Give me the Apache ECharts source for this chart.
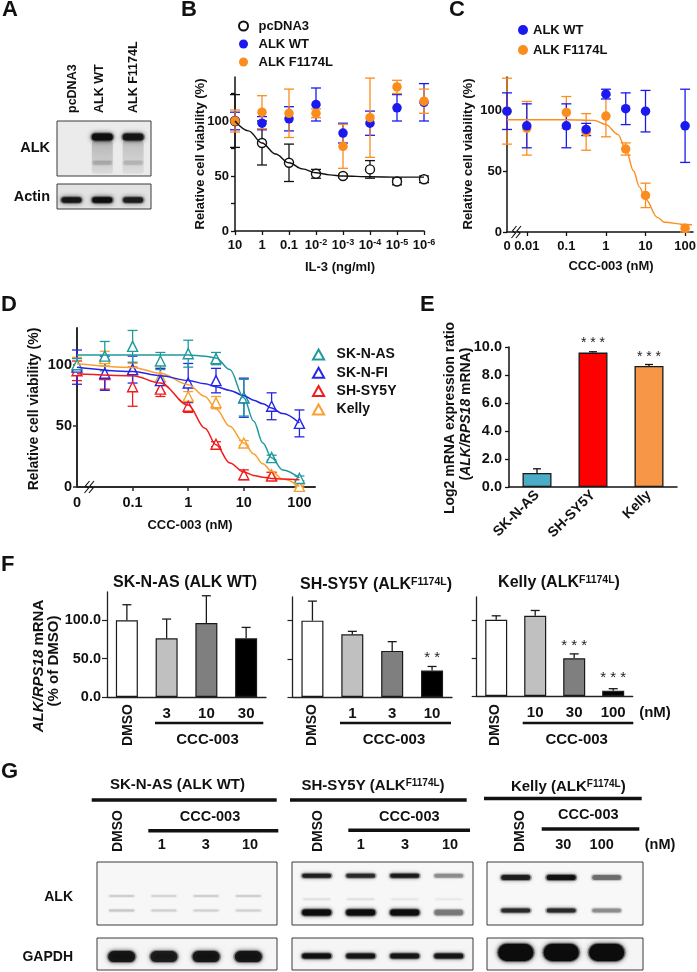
<!DOCTYPE html>
<html>
<head>
<meta charset="utf-8">
<title>ALK / CCC-003 figure</title>
<script src="https://cdn.jsdelivr.net/npm/echarts@6.0.0/dist/echarts.min.js"></script>
<style>
html,body{margin:0;padding:0;background:#fff;}
#chart{width:697px;height:972px;}
</style>
</head>
<body>
<div id="chart"></div>
<script>
// ===================== DATA =====================
// Panel A – western blot band intensities per lane (0..1)
const aLanes = ['pcDNA3', 'ALK WT', 'ALK F1174L'];
const aAlkBand = [0, 0.95, 0.85];
const aAlkSmear = [0, 0.22, 0.18];
const aAlkLower = [0, 0.14, 0.11];
const aActinBand = [0.85, 0.97, 0.8];

// Panel B – IL-3 titration
const bDoses = [10, 1, 0.1, 0.01, 0.001, 1e-4, 1e-5, 1e-6];
const bTickLabels = ['10', '1', '0.1', '10{s|-2}', '10{s|-3}', '10{s|-4}', '10{s|-5}', '10{s|-6}'];
const bPcMean = [100, 80, 62, 52, 50, 56, 45, 47];
const bPcErr = [24, 20, 17, 4, 1.5, 8, 3, 3];
const bWtMean = [100, 98, 102, 115, 89, 98, 112, 117];
const bWtErr = [8, 6, 11, 15, 9, 11, 12, 17];
const bMutMean = [100, 108, 107, 107, 77, 103, 131, 118];
const bMutErr = [10, 15, 22, 4, 20, 36, 6, 11];
const bFitDoses = [10, 3.16, 1, 0.316, 0.1, 0.0316, 0.01, 0.00316, 0.001, 1e-4, 1e-5, 1e-6];
const bFitPc = [100, 91, 80, 70, 62, 56.5, 53, 51, 50, 49.3, 49, 49];

// Panel C – Ba/F3 + CCC-003
const cDoses = [0, 0.01, 0.1, 0.316, 1, 3.16, 10, 100];
const cTickDoses = [0, 0.01, 0.1, 1, 10, 100];
const cTickLabels = ['0', '0.01', '0.1', '1', '10', '100'];
const cWtMean = [99, 87, 87, 84, 113, 101, 99, 87];
const cWtErr = [15, 18, 18, 5, 4, 13, 17, 30];
const cMutMean = [99, 85, 98, 82, 95, 68, 30, 3];
const cMutErr = [27, 22, 13, 15, 17, 5, 10, 3];
const cFitDoses = [0, 0.01, 0.1, 0.5, 1, 2, 3.16, 5, 7, 10, 20, 30, 100, 150];
const cFitMut = [92, 92, 92, 91.5, 88, 80, 68, 50, 37, 27, 12, 8, 6.2, 6];

// Panel D – neuroblastoma lines + CCC-003
const dDoses = [0, 0.0316, 0.1, 0.316, 1, 3.16, 10, 31.6, 100];
const dTickDoses = [0, 0.1, 1, 10, 100];
const dTickLabels = ['0', '0.1', '1', '10', '100'];
const dAsMean = [100, 107, 115, 103, 109, 105, 73, 24, 7];
const dAsErr = [5, 12, 13, 7, 11, 5, 15, 2, 2];
const dFiMean = [98, 93, 96, 87, 85, 87, 73, 66, 52];
const dFiErr = [14, 14, 11, 10, 16, 10, 16, 11, 11];
const dSyDoses = [0, 0.0316, 0.1, 0.316, 1, 3.16, 10, 31.6];
const dSyMean = [95, 92, 82, 80, 66, 35, 10, 9];
const dSyErr = [8, 12, 16, 6, 5, 2, 4, 3];
const dKeMean = [100, 105, 96, 90, 74, 69, 36, 10, 0.5];
const dKeErr = [6, 6, 5, 7, 4, 5, 2, 2, 1];
const dFitDoses = [0, 0.1, 0.316, 1, 2, 3.16, 5.6, 10, 15, 22, 31.6, 50, 100];
const dFitAs = [108, 108, 108, 108, 107, 105.5, 96, 73, 54, 36, 24, 14, 7.4];
const dFitFi = [98, 94.5, 91, 87, 84.5, 82, 79, 74.7, 71, 68, 64.6, 60, 52.3];
const dFitSy = [92.6, 91, 85, 67, 48, 34.6, 19.6, 12.3, 9.5, 8, 7, 6.5, 6];
const dFitKe = [100.8, 97.8, 93, 83.7, 74, 63.8, 49.6, 36, 27, 19, 12.8, 6.5, 0.5];

// Panel E – Log2 ALK/RPS18 mRNA
const eCats = ['SK-N-AS', 'SH-SY5Y', 'Kelly'];
const eMean = [1.0, 9.6, 8.65];
const eErr = [0.3, 0.06, 0.1];
const eStars = ['', '* * *', '* * *'];

// Panel F – ALK/RPS18 mRNA (% of DMSO)
const fAsCats = ['DMSO', '3', '10', '30'];
const fAsMean = [100, 76.5, 96.5, 76.5];
const fAsErr = [20.4, 25.2, 35.6, 14.3];
const fAsStars = ['', '', '', ''];
const fSyCats = ['DMSO', '1', '3', '10'];
const fSyMean = [100, 82.1, 60.4, 34.7];
const fSyErr = [25.6, 3.9, 12.1, 5.3];
const fSyStars = ['', '', '', '* *'];
const fKeCats = ['DMSO', '10', '30', '100'];
const fKeMean = [100, 105.3, 49.6, 7];
const fKeErr = [5.3, 7, 5.7, 2.6];
const fKeStars = ['', '', '* * *', '* * *'];

// Panel G – western blot band intensities per lane (0..1)
const gAsLanes = ['DMSO', '1', '3', '10'];
const gAsAlkUpper = [0.12, 0.1, 0.12, 0.12];
const gAsAlkLower = [0.16, 0.13, 0.12, 0.12];
const gAsGapdh = [0.85, 0.8, 0.85, 0.85];
const gSyLanes = ['DMSO', '1', '3', '10'];
const gSyAlkUpper = [0.78, 0.72, 0.82, 0.32];
const gSyAlkMid = [0.07, 0.07, 0.05, 0.04];
const gSyAlkLower = [0.95, 0.95, 0.95, 0.38];
const gSyGapdh = [0.92, 0.85, 0.85, 0.85];
const gKeLanes = ['DMSO', '30', '100'];
const gKeAlkUpper = [0.78, 0.9, 0.42];
const gKeAlkLower = [0.72, 0.72, 0.32];
const gKeGapdh = [1, 1, 1];

// ===================== BUILD =====================
const FONT = "'Liberation Sans', Arial, Helvetica, sans-serif";
const INK = '#111';
const PI2 = Math.PI / 2;
const C_ZERO = -2.5, D_ZERO = -2;
const lg = (d, zero) => (d === 0 ? zero : Math.log10(d));
const findLabel = (doses, labels, zero, v) => {
  const k = doses.findIndex(d => Math.abs(lg(d, zero) - v) < 1e-6);
  return k >= 0 ? labels[k] : '';
};

const grids = [], xAxes = [], yAxes = [], series = [], gfx = [];

function rgba(a) { return 'rgba(12,12,12,' + a + ')'; }

function addBlot(box, xmin, xmax, bg) {
  const i = grids.length;
  grids.push({left: box[0], top: box[1], width: box[2], height: box[3], show: true,
    backgroundColor: bg, borderColor: '#3a3a3a', borderWidth: 1, containLabel: false, outerBoundsMode: 'none'});
  xAxes.push({gridIndex: i, type: 'value', min: xmin, max: xmax, show: false});
  yAxes.push({gridIndex: i, type: 'value', min: 0, max: 1, inverse: true, show: false});
  return i;
}

// band drawn as a soft blob: a core rect plus a wider, fainter halo
function bands(gi, intens, yRel, w, h, blur) {
  series.push({type: 'custom', xAxisIndex: gi, yAxisIndex: gi, silent: true, clip: true, z: 3,
    data: intens.map((v, k) => [k, yRel, v]),
    renderItem: (p, api) => {
      const a = api.value(2);
      if (!(a > 0)) return null;
      const c = api.coord([api.value(0), api.value(1)]);
      const col = rgba(a);
      return {type: 'group', children: [
        {type: 'rect', shape: {x: c[0] - w / 2 - 1.5, y: c[1] - h / 2 - 1, width: w + 3, height: h + 2, r: (h + 2) / 2},
          style: {fill: rgba(a * 0.35), shadowBlur: blur + 2, shadowColor: rgba(a * 0.5)}},
        {type: 'rect', shape: {x: c[0] - w / 2, y: c[1] - h / 2, width: w, height: h, r: h / 2},
          style: {fill: col, shadowBlur: blur, shadowColor: col}}
      ]};
    }});
}

function smear(gi, intens, y0, y1, w, blur) {
  series.push({type: 'custom', xAxisIndex: gi, yAxisIndex: gi, silent: true, clip: true, z: 3,
    data: intens.map((v, k) => [k, y0, y1, v]),
    renderItem: (p, api) => {
      const a = api.value(3);
      if (!(a > 0)) return null;
      const c0 = api.coord([api.value(0), api.value(1)]);
      const c1 = api.coord([api.value(0), api.value(2)]);
      return {type: 'rect', shape: {x: c0[0] - w / 2, y: c0[1], width: w, height: c1[1] - c0[1], r: 3},
        style: {fill: {type: 'linear', x: 0, y: 0, x2: 0, y2: 1, global: false,
          colorStops: [{offset: 0, color: rgba(a)}, {offset: 0.6, color: rgba(a * 0.6)}, {offset: 1, color: rgba(a * 0.3)}]},
          shadowBlur: blur, shadowColor: rgba(a * 0.5)}};
    }});
}

function errBars(gi, xs, means, errs, color, cap, lw, upOnly) {
  series.push({type: 'custom', xAxisIndex: gi, yAxisIndex: gi, silent: true, clip: false,
    data: xs.map((x, k) => [x, upOnly ? means[k] : Math.max(0, means[k] - errs[k]), means[k] + errs[k]]),
    encode: {x: 0, y: [1, 2]},
    renderItem: (p, api) => {
      const top = api.coord([api.value(0), api.value(2)]);
      const bot = api.coord([api.value(0), api.value(1)]);
      const st = () => ({stroke: color, lineWidth: lw});
      const ch = [
        {type: 'line', shape: {x1: top[0], y1: top[1], x2: bot[0], y2: bot[1]}, style: st()},
        {type: 'line', shape: {x1: top[0] - cap, y1: top[1], x2: top[0] + cap, y2: top[1]}, style: st()}
      ];
      if (!upOnly) ch.push({type: 'line', shape: {x1: bot[0] - cap, y1: bot[1], x2: bot[0] + cap, y2: bot[1]}, style: st()});
      return {type: 'group', children: ch};
    }});
}

function points(gi, name, xs, means, symbol, size, fill, stroke, bw) {
  series.push({type: 'scatter', name: name, xAxisIndex: gi, yAxisIndex: gi, silent: true, clip: false,
    symbol: symbol, symbolSize: size,
    data: xs.map((x, k) => [x, means[k]]),
    itemStyle: {color: fill, borderColor: stroke, borderWidth: bw, opacity: 1}});
}

function fit(gi, xs, ys, color, w) {
  series.push({type: 'line', xAxisIndex: gi, yAxisIndex: gi, silent: true, smooth: 0.35, smoothMonotone: 'x',
    symbol: 'none', showSymbol: false, clip: false,
    data: xs.map((x, k) => [x, ys[k]]), lineStyle: {color: color, width: w}});
}

function lblStyle(size, extra) {
  return Object.assign({fontFamily: FONT, fontSize: size, fontWeight: 'bold', color: INK}, extra || {});
}

function plotGrid(box) {
  const i = grids.length;
  grids.push({left: box[0], top: box[1], width: box[2], height: box[3], containLabel: false, outerBoundsMode: 'none'});
  return i;
}

function T(x, y, text, o) {
  o = o || {};
  const size = o.size || 13, weight = o.weight || 'bold', fst = o.fstyle || 'normal';
  const al = o.align || 'center', va = o.va || 'middle';
  const st = {text: text, fill: o.color || INK, fontFamily: FONT, fontSize: size, fontWeight: weight, fontStyle: fst,
    font: fst + ' ' + weight + ' ' + size + 'px ' + FONT,
    align: al, verticalAlign: va, textAlign: al, textVerticalAlign: va};
  if (o.rich) st.rich = o.rich;
  return {type: 'text', x: x, y: y, rotation: o.rot || 0, silent: true, z: 100, style: st};
}
function L(x1, y1, x2, y2, w) {
  return {type: 'line', silent: true, z: 100, shape: {x1: x1, y1: y1, x2: x2, y2: y2}, style: {stroke: INK, lineWidth: w}};
}
function brk(x, y) {
  const mk = dx => ({type: 'polyline', silent: true, z: 100,
    shape: {points: [[x + dx + 2.5, y - 6], [x + dx - 1.5, y - 1], [x + dx + 1.5, y + 1], [x + dx - 2.5, y + 6]]},
    style: {stroke: INK, lineWidth: 1.1, fill: null}});
  return [mk(0), mk(4.5)];
}
function richItalic(size) {
  return {i: {fontFamily: FONT, fontSize: size, fontWeight: 'bold', fontStyle: 'italic', fill: INK}};
}
const SUP = (sz) => ({sup: {fontFamily: FONT, fontSize: sz, fontWeight: 'bold', fill: INK, verticalAlign: 'top', lineHeight: sz}});

// ---------- Panel A ----------
const gA1 = addBlot([57, 121, 94, 55], -0.47, 2.58, '#ebebeb');
const gA2 = addBlot([57, 184, 94, 25], -0.47, 2.58, '#e2e2e2');
smear(gA1, aAlkSmear, 0.36, 0.96, 21, 4);
bands(gA1, aAlkBand, 0.29, 21, 7, 4);
bands(gA1, aAlkLower, 0.76, 19, 4, 4);
bands(gA2, aActinBand, 0.64, 20, 5.5, 4);
const aLaneX = [72.5, 100, 134];
aLanes.forEach((t, k) => gfx.push(T(aLaneX[k], 113, t, {rot: PI2, align: 'left', size: 12.5})));
gfx.push(T(50, 148, 'ALK', {align: 'right', size: 14.5}));
gfx.push(T(50, 197, 'Actin', {align: 'right', size: 14.5}));

// ---------- Panel B ----------
const gB = plotGrid([235, 77, 189, 154]);
xAxes.push({gridIndex: gB, type: 'value', min: -6, max: 1, inverse: true,
  axisLine: {show: true, onZero: false, lineStyle: {color: INK, width: 1.5}},
  axisTick: {show: true, length: 4, lineStyle: {color: INK, width: 1.3}, customValues: bDoses.map(d => Math.log10(d))},
  axisLabel: lblStyle(13, {customValues: bDoses.map(d => Math.log10(d)), margin: 7, lineHeight: 15,
    formatter: v => findLabel(bDoses, bTickLabels, null, v),
    rich: {s: {fontFamily: FONT, fontSize: 9, fontWeight: 'bold', color: INK, verticalAlign: 'top', lineHeight: 9}}}),
  splitLine: {show: false}});
yAxes.push({gridIndex: gB, type: 'value', min: 0, max: 140,
  axisLine: {show: true, onZero: false, lineStyle: {color: INK, width: 1.5}},
  axisTick: {show: true, length: 4, lineStyle: {color: INK, width: 1.3}, customValues: [0, 25, 50, 75, 100, 125]},
  axisLabel: lblStyle(13, {customValues: [0, 50, 100], margin: 6}),
  splitLine: {show: false}});
const bx = bDoses.map(d => Math.log10(d));
const BLUE = '#1a1af0', ORANGE = '#fb8c1e';
errBars(gB, bx, bPcMean, bPcErr, INK, 5, 1.3);
fit(gB, bFitDoses.map(d => Math.log10(d)), bFitPc, INK, 1.4);
points(gB, 'pcDNA3', bx, bPcMean, 'circle', 9, '#fff', INK, 1.4);
errBars(gB, bx, bWtMean, bWtErr, BLUE, 5, 1.3);
points(gB, 'ALK WT', bx, bWtMean, 'circle', 9.5, BLUE, BLUE, 0);
errBars(gB, bx, bMutMean, bMutErr, ORANGE, 5, 1.3);
points(gB, 'ALK F1174L', bx, bMutMean, 'circle', 9.5, ORANGE, ORANGE, 0);
gfx.push(T(200, 154, 'Relative cell viability (%)', {rot: PI2, size: 13}));
gfx.push(T(340, 267, 'IL-3 (ng/ml)', {size: 13}));

// ---------- Panel C ----------
const gC = plotGrid([507, 77, 186, 155]);
xAxes.push({gridIndex: gC, type: 'value', min: -2.5, max: 2.2,
  axisLine: {show: true, onZero: false, lineStyle: {color: INK, width: 1.5}},
  axisTick: {show: true, length: 4, lineStyle: {color: INK, width: 1.3}, customValues: cTickDoses.filter(d => d > 0).map(d => Math.log10(d))},
  axisLabel: lblStyle(13, {customValues: cTickDoses.map(d => lg(d, C_ZERO)), margin: 8,
    formatter: v => findLabel(cTickDoses, cTickLabels, C_ZERO, v)}),
  splitLine: {show: false}});
yAxes.push({gridIndex: gC, type: 'value', min: 0, max: 127,
  axisLine: {show: true, onZero: false, lineStyle: {color: INK, width: 1.5}},
  axisTick: {show: true, length: 4, lineStyle: {color: INK, width: 1.3}, customValues: [0, 50, 100]},
  axisLabel: lblStyle(13, {customValues: [0, 50, 100], margin: 5}),
  splitLine: {show: false}});
const cx = cDoses.map(d => lg(d, C_ZERO));
errBars(gC, cx, cMutMean, cMutErr, ORANGE, 5, 1.3);
fit(gC, cFitDoses.map(d => lg(d, C_ZERO)), cFitMut, ORANGE, 1.4);
points(gC, 'ALK F1174L', cx, cMutMean, 'circle', 9.5, ORANGE, ORANGE, 0);
errBars(gC, cx, cWtMean, cWtErr, BLUE, 5, 1.3);
points(gC, 'ALK WT', cx, cWtMean, 'circle', 9.5, BLUE, BLUE, 0);
gfx.push(T(468, 154, 'Relative cell viability (%)', {rot: PI2, size: 13}));
gfx.push(T(611, 266, 'CCC-003 (nM)', {size: 13}));
brk(514, 232).forEach(e => gfx.push(e));

// ---------- Panel D ----------
const gD = plotGrid([77, 328, 238, 159]);
const DAX = '#2b2b2b';
xAxes.push({gridIndex: gD, type: 'value', min: -2, max: 2.28,
  axisLine: {show: true, onZero: false, lineStyle: {color: DAX, width: 2}},
  axisTick: {show: true, length: 4, lineStyle: {color: DAX, width: 1.5}, customValues: dTickDoses.filter(d => d > 0).map(d => Math.log10(d))},
  axisLabel: lblStyle(14.5, {customValues: dTickDoses.map(d => lg(d, D_ZERO)), margin: 8,
    formatter: v => findLabel(dTickDoses, dTickLabels, D_ZERO, v)}),
  splitLine: {show: false}});
yAxes.push({gridIndex: gD, type: 'value', min: 0, max: 130,
  axisLine: {show: true, onZero: false, lineStyle: {color: DAX, width: 2}},
  axisTick: {show: true, length: 4, lineStyle: {color: DAX, width: 1.5}, customValues: [0, 50, 100]},
  axisLabel: lblStyle(14.5, {customValues: [0, 50, 100], margin: 5}),
  splitLine: {show: false}});
const TEAL = '#1e9a9c', DBLUE = '#2626e6', DRED = '#f21b1b', DORANGE = '#f9a030';
const dx = dDoses.map(d => lg(d, D_ZERO));
const dFx = dFitDoses.map(d => lg(d, D_ZERO));
const dSyx = dSyDoses.map(d => lg(d, D_ZERO));
errBars(gD, dx, dKeMean, dKeErr, DORANGE, 5, 1.3);
fit(gD, dFx, dFitKe, DORANGE, 1.5);
points(gD, 'Kelly', dx, dKeMean, 'triangle', 10, '#fff', DORANGE, 1.4);
errBars(gD, dSyx, dSyMean, dSyErr, DRED, 5, 1.3);
fit(gD, dFx, dFitSy, DRED, 1.5);
points(gD, 'SH-SY5Y', dSyx, dSyMean, 'triangle', 10, '#fff', DRED, 1.4);
errBars(gD, dx, dFiMean, dFiErr, DBLUE, 5, 1.3);
fit(gD, dFx, dFitFi, DBLUE, 1.5);
points(gD, 'SK-N-FI', dx, dFiMean, 'triangle', 10, '#fff', DBLUE, 1.4);
errBars(gD, dx, dAsMean, dAsErr, TEAL, 5, 1.3);
fit(gD, dFx, dFitAs, TEAL, 1.5);
points(gD, 'SK-N-AS', dx, dAsMean, 'triangle', 10, '#fff', TEAL, 1.4);
gfx.push(T(34, 409, 'Relative cell viability (%)', {rot: PI2, size: 14}));
gfx.push(T(190, 525, 'CCC-003 (nM)', {size: 13}));
brk(87, 487).forEach(e => gfx.push(e));

// ---------- Panel E ----------
const gE = plotGrid([509, 347, 168, 140]);
xAxes.push({gridIndex: gE, type: 'category', data: eCats,
  axisLine: {show: true, onZero: false, lineStyle: {color: INK, width: 1.5}},
  axisTick: {show: false},
  axisLabel: lblStyle(14, {rotate: 45, interval: 0, margin: 6})});
yAxes.push({gridIndex: gE, type: 'value', min: 0, max: 10, interval: 2,
  axisLine: {show: true, onZero: false, lineStyle: {color: INK, width: 1.5}},
  axisTick: {show: true, length: 4, lineStyle: {color: INK, width: 1.3}},
  axisLabel: lblStyle(14.5, {margin: 7, formatter: v => v.toFixed(1)}),
  splitLine: {show: false}});
const E_COLORS = ['#4bacc6', '#ff0000', '#f79646'];
series.push({type: 'bar', xAxisIndex: gE, yAxisIndex: gE, silent: true, barWidth: 29,
  itemStyle: {borderColor: '#1a1a1a', borderWidth: 1.3},
  label: {show: false, position: 'top', distance: 2, fontFamily: FONT, fontSize: 14, color: '#222'},
  data: eMean.map((v, k) => ({value: v, itemStyle: {color: E_COLORS[k]},
    label: {show: !!eStars[k], formatter: eStars[k]}}))});
errBars(gE, eMean.map((_, k) => k), eMean, eErr, INK, 4, 1.3, true);
gfx.push(T(450, 418, 'Log2 mRNA expression ratio', {rot: PI2, size: 14}));
gfx.push(T(466, 414, '({i|ALK/RPS18} mRNA)', {rot: PI2, size: 14, rich: richItalic(14)}));

// ---------- Panel F ----------
const F_COLORS = ['#ffffff', '#c0c0c0', '#7f7f7f', '#000000'];
function fPanel(box, cats, means, errs, stars, ymax, showLabels) {
  const gi = plotGrid(box);
  xAxes.push({gridIndex: gi, type: 'category', data: cats,
    axisLine: {show: true, onZero: false, lineStyle: {color: '#222', width: 1.3}},
    axisTick: {show: false},
    axisLabel: lblStyle(15, {interval: 0, margin: 9, formatter: v => (v === 'DMSO' ? '' : v)})});
  yAxes.push({gridIndex: gi, type: 'value', min: 0, max: ymax,
    axisLine: {show: true, onZero: false, lineStyle: {color: '#222', width: 1.3}},
    axisTick: {show: true, length: 5, lineStyle: {color: '#222', width: 1.2}, customValues: [0, 50, 100]},
    axisLabel: lblStyle(14.5, {show: showLabels, customValues: [0, 50, 100], margin: 6, formatter: v => v.toFixed(1)}),
    splitLine: {show: false}});
  series.push({type: 'bar', xAxisIndex: gi, yAxisIndex: gi, silent: true, barWidth: 22,
    itemStyle: {borderColor: '#1a1a1a', borderWidth: 1.2},
    label: {show: false, position: 'top', distance: 5, fontFamily: FONT, fontSize: 15, color: '#222'},
    data: means.map((v, k) => ({value: v, itemStyle: {color: F_COLORS[k]},
      label: {show: !!stars[k], formatter: stars[k]}}))});
  errBars(gi, means.map((_, k) => k), means, errs, '#1a1a1a', 4.5, 1.3, true);
  return gi;
}
fPanel([107, 592, 159, 105], fAsCats, fAsMean, fAsErr, fAsStars, 137, true);
fPanel([292.5, 597, 159.5, 100], fSyCats, fSyMean, fSyErr, fSyStars, 131, false);
fPanel([476.7, 597, 156, 99], fKeCats, fKeMean, fKeErr, fKeStars, 130, false);
gfx.push(T(185, 583, 'SK-N-AS (ALK WT)', {size: 16}));
gfx.push(T(376, 585, 'SH-SY5Y (ALK{sup|F1174L})', {size: 16, rich: SUP(10.5)}));
gfx.push(T(559, 583, 'Kelly (ALK{sup|F1174L})', {size: 16, rich: SUP(10.5)}));
gfx.push(T(39, 666, '{i|ALK/RPS18} mRNA', {rot: PI2, size: 15, rich: richItalic(15)}));
gfx.push(T(54, 661, '(% of DMSO)', {rot: PI2, size: 15}));
[[127.7, fAsCats[0]], [312.3, fSyCats[0]], [495, fKeCats[0]]].forEach(p =>
  gfx.push(T(p[0], 704, p[1], {rot: PI2, align: 'right', size: 14})));
[[155, 263.3, 207.5], [340, 451, 394], [522.7, 633.3, 576.7]].forEach(p => {
  gfx.push(L(p[0], 723, p[1], 723, 2.5));
  gfx.push(T(p[2], 740, 'CCC-003', {size: 15}));
});
gfx.push(T(655, 713, '(nM)', {size: 15}));

// ---------- Panel G ----------
const gAsA = addBlot([97, 862, 180, 63], -0.585, 3.68, '#f7f7f7');
const gAsG = addBlot([97, 938, 180, 32], -0.585, 3.68, '#f5f5f5');
const gSyA = addBlot([292, 862, 181, 63], -0.56, 3.55, '#f7f7f7');
const gSyG = addBlot([292, 938, 181, 32], -0.56, 3.55, '#f5f5f5');
const gKeA = addBlot([487, 862, 156, 63], -0.633, 2.8, '#f8f8f8');
const gKeG = addBlot([487, 938, 156, 32], -0.633, 2.8, '#f5f5f5');
bands(gAsA, gAsAlkUpper, 0.54, 25, 2, 3);
bands(gAsA, gAsAlkLower, 0.77, 25, 2, 3);
bands(gAsG, gAsGapdh, 0.58, 27, 11, 4);
bands(gSyA, gSyAlkUpper, 0.22, 29, 4, 3.5);
bands(gSyA, gSyAlkMid, 0.59, 27, 2, 3);
bands(gSyA, gSyAlkLower, 0.8, 29, 6, 3.5);
bands(gSyG, gSyGapdh, 0.56, 29, 5, 3.5);
bands(gKeA, gKeAlkUpper, 0.245, 29, 5, 3.5);
bands(gKeA, gKeAlkLower, 0.77, 29, 4, 3.5);
bands(gKeG, gKeGapdh, 0.45, 35, 17, 4);
// headers
gfx.push(T(177.5, 785, 'SK-N-AS (ALK WT)', {size: 15}));
gfx.push(L(91.7, 800, 276.7, 800, 3.5));
gfx.push(T(373, 786, 'SH-SY5Y (ALK{sup|F1174L})', {size: 15, rich: SUP(10)}));
gfx.push(L(290, 800, 466.7, 800, 3.5));
gfx.push(T(568.3, 786.5, 'Kelly (ALK{sup|F1174L})', {size: 15, rich: SUP(10)}));
gfx.push(L(484, 798.5, 641.7, 798.5, 3.5));
// lane labels
[[118.3, gAsLanes[0]], [318.3, gSyLanes[0]], [520, gKeLanes[0]]].forEach(p =>
  gfx.push(T(p[0], 852, p[1], {rot: PI2, align: 'left', size: 14})));
gfx.push(T(210, 817, 'CCC-003', {size: 14.5}));
gfx.push(L(148.3, 830.7, 278.3, 830.7, 3.5));
gfx.push(T(409.3, 816.7, 'CCC-003', {size: 14.5}));
gfx.push(L(348.3, 830.3, 470, 830.3, 3.5));
gfx.push(T(588.3, 815, 'CCC-003', {size: 14.5}));
gfx.push(L(541.7, 829, 639.3, 829, 3.5));
[161.7, 205.7, 250].forEach((x, k) => gfx.push(T(x, 845, gAsLanes[k + 1], {size: 14.5})));
[360.7, 405, 450].forEach((x, k) => gfx.push(T(x, 845, gSyLanes[k + 1], {size: 14.5})));
[563.3, 601.7].forEach((x, k) => gfx.push(T(x, 845, gKeLanes[k + 1], {size: 14.5})));
gfx.push(T(660, 845, '(nM)', {size: 14.5}));
gfx.push(T(73, 897, 'ALK', {align: 'right', size: 14}));
gfx.push(T(73, 957, 'GAPDH', {align: 'right', size: 14}));

// ---------- Panel letters ----------
[['A', 2, -1], ['B', 181, -1], ['C', 449, -1], ['D', 1, 294], ['E', 420, 294], ['F', 1, 554], ['G', 1, 761]]
  .forEach(p => gfx.push(T(p[1], p[2], p[0], {size: 22, align: 'left', va: 'top'})));

// ---------- Legends ----------
const legTxt = (sz) => ({fontFamily: FONT, fontSize: sz, fontWeight: 'bold', color: INK, lineHeight: sz + 1});
const TRI = 'path://M5,0L10,9L0,9Z';
const legends = [
  {left: 233, top: 14, orient: 'vertical', itemWidth: 20, itemHeight: 9, itemGap: 4, selectedMode: false,
    data: ['pcDNA3', 'ALK WT', 'ALK F1174L'], textStyle: legTxt(13)},
  {left: 513, top: 18, orient: 'vertical', itemWidth: 10, itemHeight: 10, itemGap: 6, selectedMode: false,
    data: ['ALK WT', 'ALK F1174L'], textStyle: legTxt(13)},
  {left: 307, top: 342, orient: 'vertical', itemWidth: 26, itemHeight: 10, itemGap: 3.3, selectedMode: false,
    data: ['SK-N-AS', 'SK-N-FI', 'SH-SY5Y', 'Kelly'].map(n => ({name: n, icon: TRI})), textStyle: legTxt(14)}
];

const option = {
  animation: false,
  backgroundColor: '#ffffff',
  textStyle: {fontFamily: FONT},
  grid: grids,
  xAxis: xAxes,
  yAxis: yAxes,
  legend: legends,
  series: series,
  graphic: {elements: gfx}
};
const chart = echarts.init(document.getElementById('chart'), null, {renderer: 'canvas', width: 697, height: 972});
chart.setOption(option);
</script>
</body>
</html>
